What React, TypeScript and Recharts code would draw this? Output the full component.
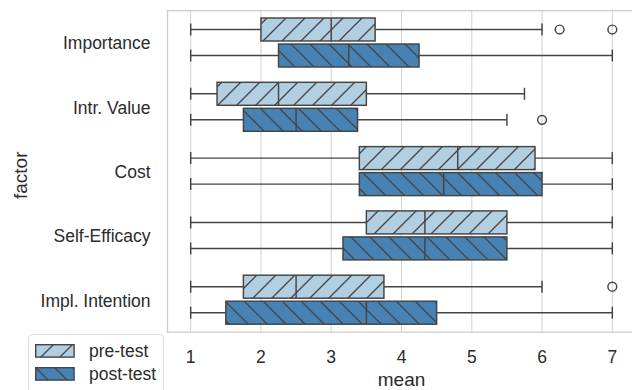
import React from 'react';
import { ComposedChart, Bar, XAxis, YAxis, CartesianGrid, ReferenceArea, Legend, Label } from 'recharts';

// ---- data ----
const factors = ['Importance', 'Intr. Value', 'Cost', 'Self-Efficacy', 'Impl. Intention'];
const seriesNames = ['pre-test', 'post-test'];
const xTicks = [1, 2, 3, 4, 5, 6, 7];

const preLow = [1, 1, 1, 1, 1];
const preQ1 = [2, 1.375, 3.4, 3.5, 1.75];
const preMedian = [3, 2.25, 4.8, 4.333, 2.5];
const preQ3 = [3.625, 3.5, 5.9, 5.5, 3.75];
const preHigh = [6, 5.75, 7, 7, 6];
const preOutliers = [[6.25, 7], [], [], [], [7]];

const postLow = [1, 1, 1, 1, 1];
const postQ1 = [2.25, 1.75, 3.4, 3.167, 1.5];
const postMedian = [3.25, 2.5, 4.6, 4.333, 3.5];
const postQ3 = [4.25, 3.375, 6, 5.5, 4.5];
const postHigh = [7, 5.5, 7, 7, 7];
const postOutliers = [[], [6], [], [], []];

const data = factors.map((f, i) => ({
  factor: f,
  pre: { low: preLow[i], q1: preQ1[i], med: preMedian[i], q3: preQ3[i], high: preHigh[i], out: preOutliers[i] },
  post: { low: postLow[i], q1: postQ1[i], med: postMedian[i], q3: postQ3[i], high: postHigh[i], out: postOutliers[i] },
  preRange: [preLow[i], preHigh[i]],
  postRange: [postLow[i], postHigh[i]],
}));

// ---- styles ----
const FONT = '"Liberation Sans", Arial, sans-serif';
const TEXT = '#2b2b2b';
const EDGE = '#444444';
const PRE_FILL = '#b2cee1';
const POST_FILL = '#4682b4';
const HATCH = 19;
const SW = 1.45;

const makeShape = (key: 'pre' | 'post', patternId: string) => (props: any) => {
  const { x, y, width, height, payload } = props;
  const s = payload[key];
  const px = (v: number) => x + ((v - s.low) / (s.high - s.low)) * width;
  const cy = y + height / 2;
  const capH = height * 0.5;
  return (
    <g>
      <line x1={px(s.low)} x2={px(s.q1)} y1={cy} y2={cy} stroke={EDGE} strokeWidth={SW} />
      <line x1={px(s.q3)} x2={px(s.high)} y1={cy} y2={cy} stroke={EDGE} strokeWidth={SW} />
      <line x1={px(s.low)} x2={px(s.low)} y1={cy - capH / 2} y2={cy + capH / 2} stroke={EDGE} strokeWidth={SW} />
      <line x1={px(s.high)} x2={px(s.high)} y1={cy - capH / 2} y2={cy + capH / 2} stroke={EDGE} strokeWidth={SW} />
      <rect
        x={px(s.q1)}
        y={y + 0.5}
        width={px(s.q3) - px(s.q1)}
        height={height - 1}
        fill={`url(#${patternId})`}
        stroke={EDGE}
        strokeWidth={SW}
      />
      <line x1={px(s.med)} x2={px(s.med)} y1={y + 0.5} y2={y + height - 0.5} stroke={EDGE} strokeWidth={SW} />
      {s.out.map((o: number, k: number) => (
        <circle key={k} cx={px(o)} cy={cy} r={4.4} fill="none" stroke={EDGE} strokeWidth={SW} />
      ))}
    </g>
  );
};

const PatternDefs = ({ pre, post }: { pre: string; post: string }) => (
  <defs>
    <pattern id={pre} patternUnits="userSpaceOnUse" width={HATCH} height={HATCH}>
      <rect width={HATCH} height={HATCH} fill={PRE_FILL} />
      <path
        d={`M0,${HATCH} L${HATCH},0 M-2,2 L2,-2 M${HATCH - 2},${HATCH + 2} L${HATCH + 2},${HATCH - 2}`}
        stroke={EDGE}
        strokeWidth={1.3}
      />
    </pattern>
    <pattern id={post} patternUnits="userSpaceOnUse" width={HATCH} height={HATCH}>
      <rect width={HATCH} height={HATCH} fill={POST_FILL} />
      <path
        d={`M0,0 L${HATCH},${HATCH} M-2,${HATCH - 2} L2,${HATCH + 2} M${HATCH - 2},-2 L${HATCH + 2},2`}
        stroke={EDGE}
        strokeWidth={1.3}
      />
    </pattern>
  </defs>
);

const XTick = (props: any) => {
  const { x, y, payload } = props;
  return (
    <text x={x} y={y + 30.5} textAnchor="middle" fontSize={17.5} fontFamily={FONT} fill={TEXT}>
      {payload.value}
    </text>
  );
};

const YTick = (props: any) => {
  const { x, y, payload } = props;
  return (
    <text x={x - 17} y={y + 6.8} textAnchor="end" fontSize={17.5} fontFamily={FONT} fill={TEXT}>
      {payload.value}
    </text>
  );
};

const XLabel = (props: any) => {
  const vb = props.viewBox;
  return (
    <text x={vb.x + vb.width / 2} y={386} textAnchor="middle" fontSize={19} fontFamily={FONT} fill={TEXT}>
      mean
    </text>
  );
};

const YLabel = (props: any) => {
  const vb = props.viewBox;
  const cy = vb.y + vb.height / 2 + 4;
  return (
    <text
      x={27}
      y={cy}
      transform={`rotate(-90, 27, ${cy})`}
      textAnchor="middle"
      fontSize={19}
      fontFamily={FONT}
      fill={TEXT}
    >
      factor
    </text>
  );
};

const LegendContent = () => {
  const fills = ['lgPre', 'lgPost'];
  return (
    <div
      style={{
        position: 'relative',
        width: 136,
        height: 62,
        boxSizing: 'border-box',
        border: '1px solid #dcdcdc',
        borderRadius: 4,
        background: '#fff',
        fontFamily: FONT,
      }}
    >
      <svg width={0} height={0} style={{ position: 'absolute' }}>
        <PatternDefs pre="lgPre" post="lgPost" />
      </svg>
      {seriesNames.map((name, i) => (
        <div key={name} style={{ position: 'absolute', left: 6, top: 8.5 + i * 23.4, height: 14, display: 'flex', alignItems: 'center' }}>
          <svg width={40} height={14} style={{ display: 'block' }}>
            <rect x={0.7} y={0.7} width={38.4} height={12.4} fill={`url(#${fills[i]})`} stroke={EDGE} strokeWidth={1.4} />
          </svg>
          <span style={{ marginLeft: 14, fontSize: 17.5, color: TEXT, lineHeight: '14px', whiteSpace: 'nowrap' }}>{name}</span>
        </div>
      ))}
    </div>
  );
};

export default function App() {
  return (
    <div style={{ position: 'absolute', left: 0, top: 0, width: 632, height: 390, overflow: 'hidden', background: '#fff' }}>
      <ComposedChart
        width={640}
        height={390}
        data={data}
        layout="vertical"
        margin={{ top: 10.5, right: 4.5, bottom: 0, left: 0 }}
        barGap={2}
      >
        <PatternDefs pre="hatchPre" post="hatchPost" />
        <CartesianGrid horizontal={false} vertical stroke="#d5d5d5" strokeWidth={1.1} />
        <XAxis
          type="number"
          domain={[0.67, 7.33]}
          ticks={xTicks}
          allowDataOverflow
          height={58}
          axisLine={false}
          tickLine={false}
          tickSize={0}
          tickMargin={0}
          tick={<XTick />}
          interval={0}
        >
          <Label content={<XLabel />} />
        </XAxis>
        <YAxis
          type="category"
          dataKey="factor"
          width={167.5}
          axisLine={false}
          tickLine={false}
          tickSize={0}
          tickMargin={0}
          tick={<YTick />}
          interval={0}
        >
          <Label content={<YLabel />} />
        </YAxis>
        <ReferenceArea x1={0.67} x2={7.33} fill="none" stroke="#cccccc" strokeWidth={1.25} ifOverflow="visible" />
        <Bar dataKey="preRange" name={seriesNames[0]} barSize={24} isAnimationActive={false} shape={makeShape('pre', 'hatchPre')} />
        <Bar dataKey="postRange" name={seriesNames[1]} barSize={24} isAnimationActive={false} shape={makeShape('post', 'hatchPost')} />
        <Legend
          layout="horizontal"
          verticalAlign="middle"
          align="center"
          wrapperStyle={{ left: 28, top: 334, width: 136, height: 62 }}
          content={<LegendContent />}
        />
      </ComposedChart>
    </div>
  );
}
